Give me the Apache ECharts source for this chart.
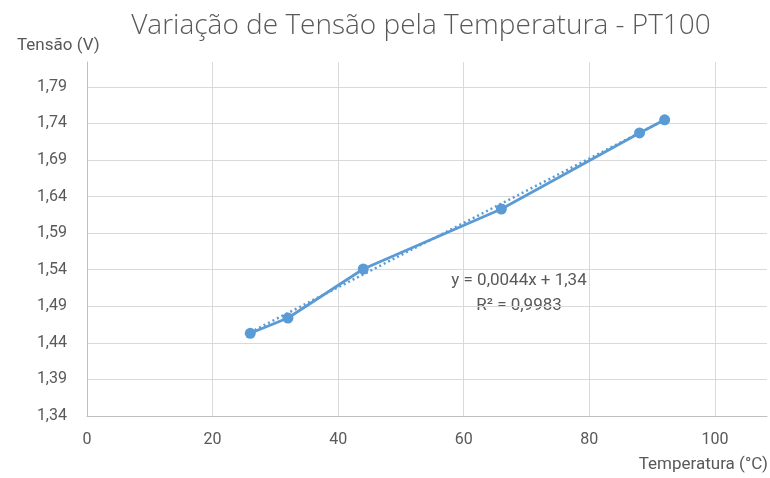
<!DOCTYPE html>
<html>
<head>
<meta charset="utf-8">
<script src="https://cdn.jsdelivr.net/npm/echarts@6/dist/echarts.min.js"></script>
<style>
  html, body { margin: 0; padding: 0; background: #fff; }
  #chart { width: 770px; height: 478px; }
</style>
</head>
<body>
<div id="chart"></div>
<script>
// Medições do PT100: temperatura (°C) e tensão (V)
const temperaturas = [26, 32, 44, 66, 88, 92];
const tensoes = [1.453, 1.474, 1.541, 1.623, 1.727, 1.745];

// Linha de tendência linear (coeficientes exibidos no gráfico)
const trendSlope = 0.0044;
const trendIntercept = 1.34;
const trendR2 = 0.9983;

const xTicks = [0, 20, 40, 60, 80, 100];
const yTicks = [1.34, 1.39, 1.44, 1.49, 1.54, 1.59, 1.64, 1.69, 1.74, 1.79];

const fmt = (v, d) => v.toFixed(d).replace('.', ',');

const pontos = temperaturas.map((t, i) => [t, tensoes[i]]);
const xMin = Math.min(...temperaturas), xMax = Math.max(...temperaturas);
const tendencia = [xMin, xMax].map(t => [t, trendSlope * t + trendIntercept]);

const labelColor = '#595959';
const font = 'Roboto, "Liberation Sans", sans-serif';

const chart = echarts.init(document.getElementById('chart'), null, { renderer: 'canvas' });
chart.setOption({
  animation: false,
  backgroundColor: '#ffffff',
  title: {
    text: 'Variação de Tensão pela Temperatura - PT100',
    left: 416, top: 7, textAlign: 'center',
    textStyle: { color: labelColor, fontFamily: '"Open Sans", sans-serif', fontWeight: 300, fontSize: 28 }
  },
  grid: { left: 87, right: 2, top: 62, bottom: 62 },
  xAxis: {
    type: 'value', min: 0, max: 108.3, interval: 20,
    axisLine: { show: true, lineStyle: { color: '#bfbfbf', width: 1 } },
    axisTick: { show: false },
    splitLine: { show: true, showMaxLine: false, lineStyle: { color: '#d9d9d9', width: 1 } },
    axisLabel: {
      color: labelColor, fontFamily: font, fontSize: 16, margin: 16,
      formatter: v => xTicks.includes(v) ? String(v) : ''
    }
  },
  yAxis: {
    type: 'value', min: 1.34, max: 1.824, interval: 0.05,
    axisLine: { show: true, lineStyle: { color: '#bfbfbf', width: 1 } },
    axisTick: { show: false },
    splitLine: { show: true, showMaxLine: false, lineStyle: { color: '#d9d9d9', width: 1 } },
    axisLabel: {
      color: labelColor, fontFamily: font, fontSize: 16, margin: 20,
      formatter: v => yTicks.some(t => Math.abs(t - v) < 1e-6) ? fmt(v, 2) : ''
    }
  },
  graphic: [
    { type: 'text', left: 17, top: 37,
      style: { text: 'Tensão (V)', fill: labelColor, font: '17px ' + font } },
    { type: 'text', right: 2, top: 456,
      style: { text: 'Temperatura (°C)', fill: labelColor, font: '17px ' + font } },
    { type: 'text', x: 519, y: 281,
      style: { text: 'y = ' + fmt(trendSlope, 4) + 'x + ' + fmt(trendIntercept, 2),
               fill: labelColor, font: '17px ' + font, align: 'center', verticalAlign: 'middle' } },
    { type: 'text', x: 519, y: 306,
      style: { text: 'R² = ' + fmt(trendR2, 4),
               fill: labelColor, font: '17px ' + font, align: 'center', verticalAlign: 'middle' } }
  ],
  series: [
    {
      name: 'Tendência', type: 'line', data: tendencia,
      symbol: 'none', silent: true, z: 2,
      lineStyle: { color: '#5b9bd5', width: 2.5, type: [2, 3] }
    },
    {
      name: 'Tensão', type: 'line', data: pontos,
      symbol: 'circle', symbolSize: 11, z: 3,
      lineStyle: { color: '#5b9bd5', width: 2.75 },
      itemStyle: { color: '#5b9bd5' }
    }
  ]
});
</script>
</body>
</html>
